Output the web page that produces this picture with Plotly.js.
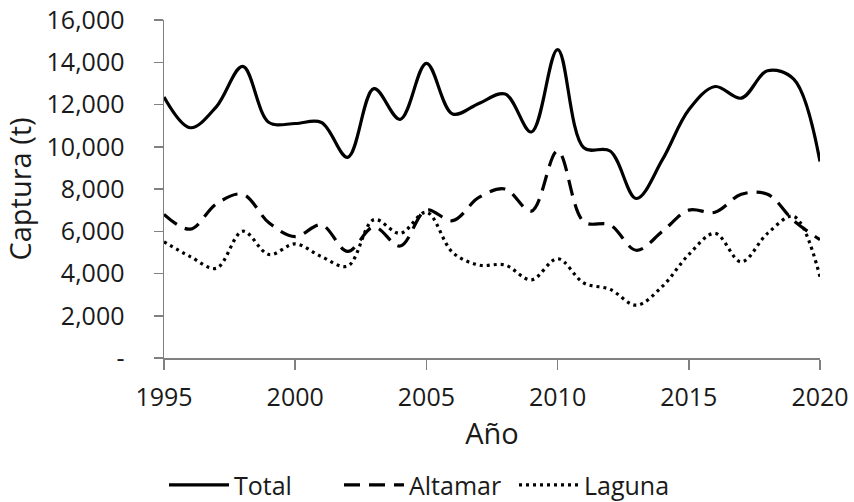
<!DOCTYPE html>
<html>
<head>
<meta charset="utf-8">
<script src="https://cdn.plot.ly/plotly-3.0.1.min.js"></script>
<style>html,body{margin:0;padding:0;background:#fff;}#chart{width:854px;height:502px;}</style>
</head>
<body>
<div id="chart"></div>
<script>
const years = [1995,1996,1997,1998,1999,2000,2001,2002,2003,2004,2005,2006,2007,2008,2009,2010,2011,2012,2013,2014,2015,2016,2017,2018,2019,2020];
const total = [12350,10900,11900,13800,11150,11100,11150,9500,12750,11300,13950,11550,12050,12500,10700,14600,9950,9800,7550,9400,11750,12850,12300,13600,13200,9300];
const altamar = [6800,6100,7300,7750,6400,5750,6300,5050,6200,5300,7000,6500,7600,8000,6950,9800,6450,6300,5100,6000,7000,6900,7750,7750,6500,5600];
const laguna = [5500,4800,4250,6000,4900,5400,4800,4350,6550,5900,6900,5000,4400,4400,3700,4700,3550,3250,2500,3400,4900,5900,4550,5900,6700,3850];
const yTickVals = [0,2000,4000,6000,8000,10000,12000,14000,16000];
const yTickText = ['-','2,000','4,000','6,000','8,000','10,000','12,000','14,000','16,000'];
const xTickVals = [1995,2000,2005,2010,2015,2020];

const lineBase = {shape:'spline', smoothing:1, color:'#000', width:3.2};
const traces = [
  {x:years, y:total, name:'Total', mode:'lines', line:Object.assign({}, lineBase, {dash:'solid'})},
  {x:years, y:altamar, name:'Altamar', mode:'lines', line:Object.assign({}, lineBase, {dash:'16px,9px'})},
  {x:years, y:laguna, name:'Laguna', mode:'lines', line:Object.assign({}, lineBase, {dash:'3px,4px'})}
];
const fam = 'Open Sans, Noto Sans, sans-serif';
const font = {family:fam, color:'#1a1a1a'};
const axisCol = '#808080';
const nb = '\u00A0';
const layout = {
  width:854, height:502,
  margin:{l:164, r:34, t:20, b:144, autoexpand:false},
  paper_bgcolor:'#fff', plot_bgcolor:'#fff',
  font: Object.assign({}, font, {size:25}),
  showlegend:true,
  legend:{orientation:'h', x:0.0, xanchor:'left', y:-0.376, yanchor:'middle',
          itemwidth:60, entrywidth:100, entrywidthmode:'pixels',
          font:Object.assign({}, font, {size:25}), tracegroupgap:0, bgcolor:'rgba(0,0,0,0)'},
  xaxis:{
    range:[1995,2020], tickvals:xTickVals, ticktext:xTickVals.map(String),
    showgrid:false, zeroline:false, showline:true, linecolor:axisCol, linewidth:1.5,
    ticks:'outside', ticklen:10, tickcolor:axisCol, tickwidth:1.5,
    ticklabelstandoff:6,
    tickfont:Object.assign({}, font, {size:25}),
    title:{text:'Año', font:Object.assign({}, font, {size:29}), standoff:12}
  },
  yaxis:{
    range:[0,16000], tickvals:yTickVals, ticktext:yTickText,
    showgrid:false, zeroline:false, showline:true, linecolor:axisCol, linewidth:1.5,
    ticks:'outside', ticklen:9, tickcolor:axisCol, tickwidth:1.5,
    ticklabelstandoff:24,
    tickfont:Object.assign({}, font, {size:25}),
    title:{text:nb.repeat(5) + 'Captura (t)', font:Object.assign({}, font, {size:29}), standoff:8}
  }
};
Plotly.newPlot('chart', traces, layout, {displayModeBar:false, staticPlot:true});
</script>
</body>
</html>
